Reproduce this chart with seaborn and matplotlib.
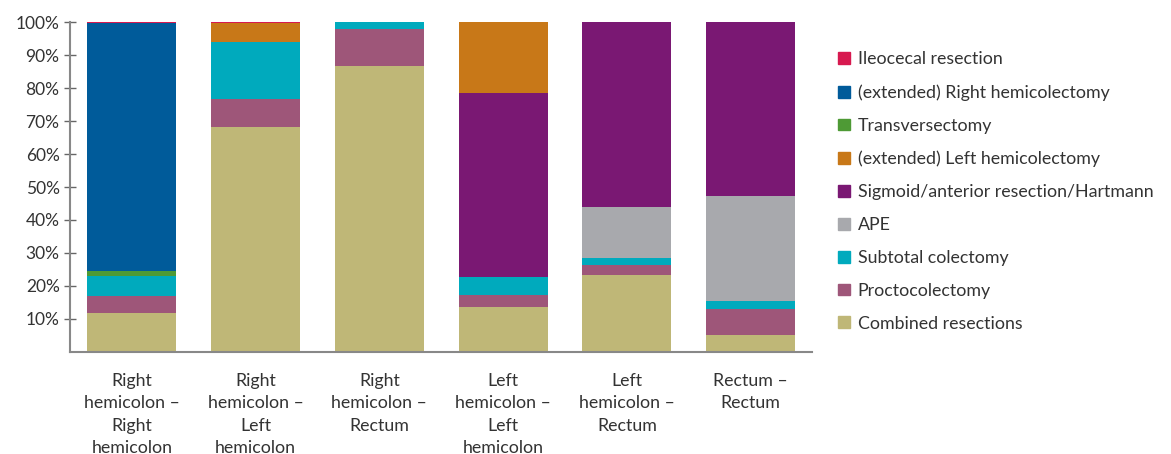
import seaborn as sns
import matplotlib.pyplot as plt
import numpy as np
from matplotlib.patches import Patch

# category labels on the x axis
groups = ['Right\nhemicolon –\nRight\nhemicolon', 'Right\nhemicolon –\nLeft\nhemicolon',
          'Right\nhemicolon –\nRectum', 'Left\nhemicolon –\nLeft\nhemicolon',
          'Left\nhemicolon –\nRectum', 'Rectum –\nRectum']

# percentages per procedure (stack order, bottom to top)
combined = [11.8, 68.3, 86.8, 13.7, 23.4, 5.2]
procto = [5.2, 8.3, 11.2, 3.7, 3.0, 7.7]
subtotal = [6.0, 17.3, 2.0, 5.2, 2.2, 2.7]
ape = [0, 0, 0, 0, 15.2, 31.7]
sigmoid = [0, 0, 0, 56.0, 56.2, 52.7]
left_hemi = [0, 5.7, 0, 21.4, 0, 0]
transverse = [1.5, 0, 0, 0, 0, 0]
right_hemi = [75.1, 0, 0, 0, 0, 0]
ileocecal = [0.4, 0.4, 0, 0, 0, 0]

series = [
    ('Combined resections', combined, '#BFB777'),
    ('Proctocolectomy', procto, '#9E5679'),
    ('Subtotal colectomy', subtotal, '#00AABD'),
    ('APE', ape, '#A8A9AD'),
    ('Sigmoid/anterior resection/Hartmann', sigmoid, '#7A1873'),
    ('(extended) Left hemicolectomy', left_hemi, '#C87818'),
    ('Transversectomy', transverse, '#4E9A35'),
    ('(extended) Right hemicolectomy', right_hemi, '#005B9A'),
    ('Ileocecal resection', ileocecal, '#D7194F'),
]

sns.set_style('white')
plt.rcParams['font.family'] = ['Lato', 'DejaVu Sans']
txt = '#333333'

fig = plt.figure(figsize=(11.71, 4.54), dpi=100)
ax = fig.add_axes([0.0598, 0.2247, 0.634, 0.7268])

bottom = np.zeros(len(groups))
for name, vals, col in series:
    sns.barplot(x=groups, y=vals, bottom=bottom, color=col, width=0.72,
                saturation=1, ax=ax, linewidth=0)
    bottom += np.array(vals)

ax.set_ylim(0, 100)
ax.set_xlim(-0.5, 5.5)
ax.set_yticks(range(10, 101, 10))
ax.set_yticklabels([f'{v}%' for v in range(10, 101, 10)])
ax.tick_params(axis='y', direction='inout', length=9, width=1, color='#666666',
               labelsize=12.5, labelcolor=txt, pad=3, left=True)
ax.tick_params(axis='x', length=0, labelsize=12.8, labelcolor=txt, pad=15)
for lab in ax.get_xticklabels():
    lab.set_linespacing(1.5)
for s in ['top', 'right']:
    ax.spines[s].set_visible(False)
for s in ['left', 'bottom']:
    ax.spines[s].set_color('#888888')
    ax.spines[s].set_linewidth(1.5)

handles = [Patch(color=c, label=n) for n, v, c in series[::-1]]
fig.legend(handles=handles, loc='upper left', bbox_to_anchor=(0.702, 0.922),
           frameon=False, fontsize=12.8, labelcolor=txt, handlelength=0.65,
           handleheight=0.65, handletextpad=0.45, labelspacing=0.95)

plt.savefig('out.png', dpi=100)
